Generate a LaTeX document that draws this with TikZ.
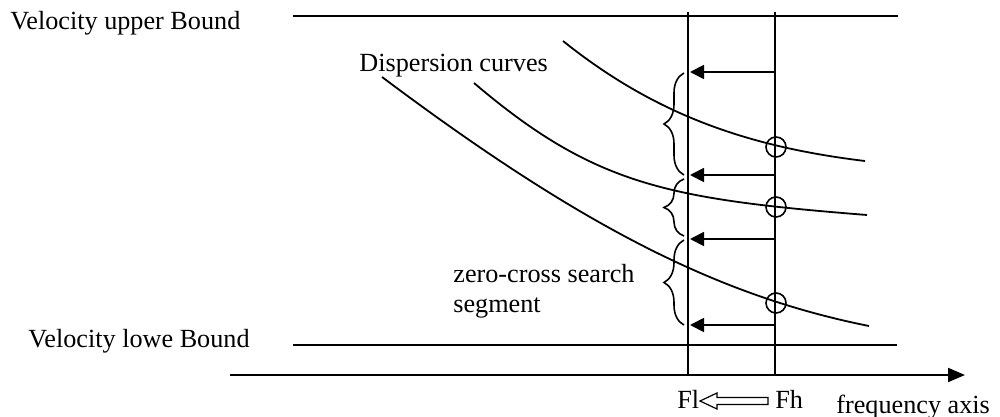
\documentclass[tikz,border=0pt]{standalone}
\usepackage{fontspec}
\setmainfont{Liberation Serif}
\usetikzlibrary{arrows.meta,decorations.pathreplacing}
\begin{document}
\begin{tikzpicture}[x=0.5pt,y=-0.5pt,
  lbl/.style={inner sep=0pt, anchor=base west, font=\fontsize{13.1}{15.7}\selectfont},
  bound/.style={line width=1pt},
  curve/.style={line width=0.9pt},
  searcharrow/.style={line width=0.9pt, -{Triangle[length=7pt,width=7pt]}},
  axisarrow/.style={line width=1pt, -{Triangle[length=8.5pt,width=7pt]}},
  brc/.style={line width=0.8pt, decorate, decoration={brace, amplitude=10pt}},
  zc/.style={circle, draw, line width=0.8pt, minimum size=10pt, inner sep=0pt},
  hollow/.style={line width=0.6pt, fill=white}
]
\useasboundingbox (0,0) rectangle (1000,417);

% labels
\node[lbl] (ub) at (10,30) {Velocity upper Bound};
\node[lbl] (lb) at (28,347) {Velocity lowe Bound};
\node[lbl] (dc) at (359,72) {Dispersion curves};
\node[lbl] (zs1) at (453,282) {zero-cross search};
\node[lbl] (zs2) at (453,312) {segment};
\node[lbl] (fl) at (677,408) {Fl};
\node[lbl] (fh) at (775,408) {Fh};
\node[lbl] (fa) at (836,413) {frequency axis};

% bounds
\coordinate (ubL) at (293,16); \coordinate (ubR) at (898,16);
\coordinate (lbL) at (293,345); \coordinate (lbR) at (897,345);
\draw[bound] (ubL) -- (ubR);
\draw[bound] (lbL) -- (lbR);

% frequency axis
\coordinate (axL) at (230,375); \coordinate (axR) at (965,375);
\draw[axisarrow] (axL) -- (axR);

% vertical lines Fl / Fh
\coordinate (flT) at (688,12); \coordinate (flB) at (688,375);
\coordinate (fhT) at (775,12); \coordinate (fhB) at (775,375);
\draw[bound] (flT) -- (flB);
\draw[bound] (fhT) -- (fhB);

% dispersion curves
\draw[curve] (563,41) .. controls (653,113) and (745,146.6) .. (865,161);
\draw[curve] (474,83) .. controls (594,185) and (667,199) .. (867,215);
\draw[curve] (382,77) .. controls (582,227) and (719,296) .. (869,326);

% zero crossings
\node[zc] (c1) at (776,147) {};
\node[zc] (c2) at (776,207) {};
\node[zc] (c3) at (776,303) {};

% search arrows
\foreach \i/\y in {1/72,2/175,3/239,4/325}{
  \coordinate (h\i) at (775,\y);
  \coordinate (l\i) at (690,\y);
  \draw[searcharrow] (h\i) -- (l\i);
}

% braces
\draw[brc] (684,175) -- (684,73);
\draw[brc] (684,236) -- (684,179);
\draw[brc] (684,325) -- (684,240);

% hollow arrow Fh -> Fl
\draw[hollow] (768,397.5) -- (717,397.5) -- (717,393) -- (700,401) -- (717,409) -- (717,404.5) -- (768,404.5) -- cycle;
\end{tikzpicture}
\end{document}
